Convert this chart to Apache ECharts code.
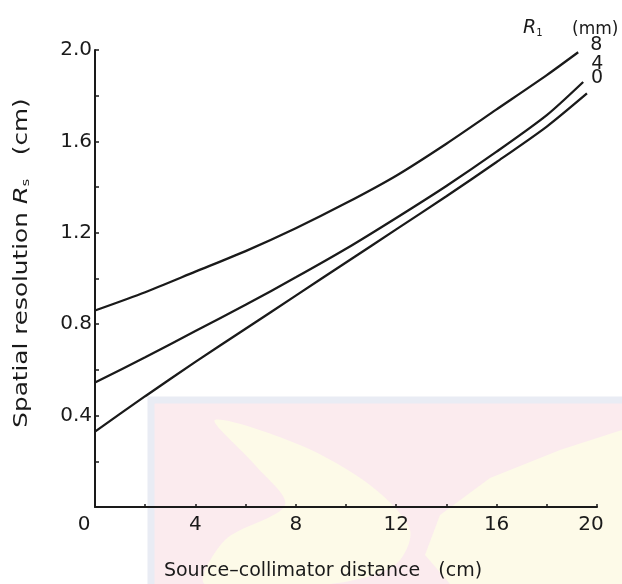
<!DOCTYPE html>
<html>
<head>
<meta charset="utf-8">
<script src="https://cdn.jsdelivr.net/npm/echarts@6/dist/echarts.min.js"></script>
<style>
  html, body { margin: 0; padding: 0; background: #fff; }
  #chart { width: 622px; height: 584px; }
</style>
</head>
<body>
<div id="chart"></div>
<script>
// Source–collimator distance (cm)
const distances = [0, 2, 4, 6, 8, 10, 12, 14, 16, 18];
// Spatial resolution R_s (cm) for each intrinsic resolution R_1 (mm)
const rs8 = [0.86, 0.94, 1.03, 1.12, 1.22, 1.33, 1.45, 1.59, 1.74, 1.89];
const rs4 = [0.545, 0.655, 0.77, 0.885, 1.005, 1.13, 1.265, 1.405, 1.555, 1.715];
const rs0 = [0.33, 0.485, 0.635, 0.78, 0.925, 1.07, 1.215, 1.36, 1.51, 1.665];
// curve end points
const endX = { '8': 19.25, '4': 19.45, '0': 19.6 };
const endY = { '8': 1.99, '4': 1.86, '0': 1.81 };
// nudge of each curve's end label
const labelShift = { '8': [4, -7], '4': [0, -18], '0': [-4, -15] };

const FONT = '"DejaVu Sans", sans-serif';
const INK = '#1a1a1a';

function pairs(vals, key) {
  const pts = distances.map((d, i) => [d, vals[i]]);
  pts.push([endX[key], endY[key]]);
  return pts;
}

function curve(name, vals) {
  return {
    name: name,
    type: 'line',
    data: pairs(vals, name),
    smooth: 0.25,
    showSymbol: false,
    silent: true,
    lineStyle: { color: INK, width: 2.3 },
    endLabel: {
      show: true,
      formatter: name,
      color: INK,
      fontFamily: FONT,
      fontSize: 19,
      distance: 8,
      offset: labelShift[name]
    },
    z: 5
  };
}

const chart = echarts.init(document.getElementById('chart'), null, { renderer: 'canvas' });

chart.setOption({
  backgroundColor: '#ffffff',
  animation: false,
  grid: { left: 95, right: 25, top: 50, bottom: 77 },
  graphic: [
    // pale background panel in the lower right
    {
      type: 'rect', z: -10, silent: true,
      shape: { x: 151, y: 400, width: 480, height: 200 },
      style: { fill: '#fbebee', stroke: '#e9ecf4', lineWidth: 7 }
    },
    {
      type: 'polygon', z: -9, silent: true,
      shape: { points: [[215, 420], [300, 445], [370, 485], [410, 530], [395, 565], [330, 584], [205, 584], [225, 540], [285, 505], [255, 465]], smooth: 0.3 },
      style: { fill: '#fdfae8' }
    },
    {
      type: 'polygon', z: -9, silent: true,
      shape: { points: [[622, 430], [560, 450], [490, 478], [440, 515], [425, 555], [450, 584], [622, 584]] },
      style: { fill: '#fdfae8' }
    },
    // curve-family label
    {
      type: 'text', left: 523, top: 19, silent: true,
      style: {
        text: '{r|R}{s|1}',
        rich: {
          r: { fontFamily: FONT, fontStyle: 'italic', fontSize: 19, fill: INK },
          s: { fontFamily: FONT, fontSize: 10, fill: INK, padding: [9, 0, 0, 0] }
        }
      }
    },
    {
      type: 'text', left: 572, top: 21, silent: true,
      style: { text: '(mm)', fontFamily: FONT, fontSize: 17, fill: INK }
    },
    // y-axis title, stretched along its reading direction
    {
      type: 'text', silent: true,
      x: 22, y: 263, rotation: Math.PI / 2, scaleX: 1.3,
      style: {
        text: '{t|Spatial resolution }{r|R}{s|s}{t|   (cm)}',
        align: 'center', verticalAlign: 'middle',
        rich: {
          t: { fontFamily: FONT, fontSize: 19, fill: INK },
          r: { fontFamily: FONT, fontStyle: 'italic', fontSize: 20, fill: INK },
          s: { fontFamily: FONT, fontSize: 11, fill: INK, padding: [9, 0, 0, 0] }
        }
      }
    },
    // x-axis title
    {
      type: 'text', silent: true,
      x: 323, y: 571,
      style: {
        text: 'Source\u2013collimator distance   (cm)',
        align: 'center', verticalAlign: 'middle',
        fontFamily: FONT, fontSize: 19, fill: INK
      }
    }
  ],
  xAxis: {
    type: 'value',
    min: 0, max: 20, interval: 4,
    axisLine: { show: true, lineStyle: { color: INK, width: 2 } },
    axisTick: { show: true, inside: true, length: 3, lineStyle: { color: INK, width: 1.5 } },
    minorTick: { show: true, splitNumber: 2, length: 3, lineStyle: { color: INK, width: 1.5 } },
    splitLine: { show: false },
    axisLabel: {
      color: INK, fontFamily: FONT, fontSize: 20, margin: 8,
      formatter: v => v === 0 ? '{z|0}' : (v === 20 ? '{e|20}' : String(v)),
      rich: {
        z: { fontFamily: FONT, fontSize: 20, color: INK, padding: [0, 22, 0, 0] },
        e: { fontFamily: FONT, fontSize: 20, color: INK, padding: [0, 12, 0, 0] }
      }
    }
  },
  yAxis: {
    type: 'value',
    min: 0, max: 2.0, interval: 0.4,
    axisLine: { show: true, onZero: false, lineStyle: { color: INK, width: 2 } },
    axisTick: { show: true, inside: true, length: 4, lineStyle: { color: INK, width: 1.5 } },
    minorTick: { show: true, splitNumber: 2, length: 4, lineStyle: { color: INK, width: 1.5 } },
    splitLine: { show: false },
    axisLabel: {
      color: INK, fontFamily: FONT, fontSize: 20, margin: 3,
      formatter: v => v === 0 ? '' : v.toFixed(1)
    }
  },
  series: [
    curve('8', rs8),
    curve('4', rs4),
    curve('0', rs0)
  ]
});
</script>
</body>
</html>
